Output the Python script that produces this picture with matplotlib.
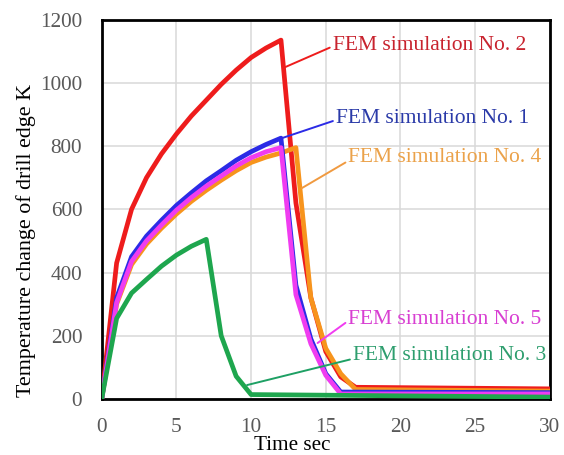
import matplotlib
matplotlib.use("Agg")
import matplotlib.pyplot as plt

plt.rcParams['font.family'] = ['Liberation Serif', 'DejaVu Serif']

# ---- data ----
red_t = [0, 1, 2, 3, 4, 5, 6, 7, 8, 9, 10, 11, 12, 13, 14, 15, 16, 17, 30]
red_y = [0, 430, 600, 700, 775, 838, 895, 945, 995, 1040, 1080, 1110, 1135,
         620, 320, 150, 70, 37, 32]

blue_t = [0, 1, 2, 3, 4, 5, 6, 7, 8, 9, 10, 11, 12, 13, 14, 15, 16, 30]
blue_y = [0, 320, 450, 515, 565, 612, 652, 690, 722, 755, 782, 805, 825,
          360, 190, 80, 22, 20]

mag_t = [0, 1, 2, 3, 4, 5, 6, 7, 8, 9, 10, 11, 12, 13, 14, 15, 16, 30]
mag_y = [0, 305, 435, 500, 550, 597, 637, 673, 705, 737, 763, 782, 795,
         330, 175, 75, 16, 16]

orange_t = [0, 1, 2, 3, 4, 5, 6, 7, 8, 9, 10, 11, 12, 13, 14, 15, 16, 17, 30]
orange_y = [0, 300, 425, 490, 540, 585, 625, 660, 692, 722, 748, 765, 778,
            795, 320, 160, 80, 30, 25]

green_t = [0, 1, 2, 3, 4, 5, 6, 7, 8, 9, 10, 30]
green_y = [0, 255, 335, 378, 420, 455, 483, 505, 200, 72, 14, 6]

labels = ["FEM simulation No. 2", "FEM simulation No. 1", "FEM simulation No. 4",
          "FEM simulation No. 5", "FEM simulation No. 3"]
label_pos = [(15.45, 1118), (15.66, 888), (16.5, 765), (16.5, 250), (16.8, 139)]
label_target = [(12.3, 1050), (12.0, 824), (13.4, 667), (14.45, 177), (9.73, 44)]

x_ticks = [0, 5, 10, 15, 20, 25, 30]
y_ticks = [0, 200, 400, 600, 800, 1000, 1200]

# ---- colours ----
c_red, c_blue, c_mag, c_orange, c_green = "#EE1C1C", "#2B2BE6", "#F03CF0", "#F7941D", "#1EA64E"
t_red, t_blue, t_orange, t_mag, t_green = "#C8232E", "#2A3AA8", "#EBA24A", "#D83FD2", "#2E9E6E"

fig = plt.figure(figsize=(5.64, 4.55), dpi=100)
ax = fig.add_axes([0.1803, 0.1231, 0.7947, 0.8339])

lw = 3.4
ax.plot(red_t, red_y, color=c_red, lw=lw, zorder=3)
ax.plot(orange_t, orange_y, color=c_orange, lw=lw, zorder=4)
ax.plot(blue_t, blue_y, color=c_blue, lw=lw, zorder=5)
ax.plot(mag_t, mag_y, color=c_mag, lw=lw, zorder=6)
ax.plot(green_t, green_y, color=c_green, lw=lw, zorder=7)

text_cols = [t_red, t_blue, t_orange, t_mag, t_green]
line_cols = [c_red, c_blue, "#F09A40", c_mag, "#1EA064"]
relys = [0.45, 0.4, 0.3, 0.45, 0.3]
for lab, pos, tgt, tc, lc, ry in zip(labels, label_pos, label_target, text_cols, line_cols, relys):
    ax.annotate(lab, xy=tgt, xytext=pos, ha='left', va='center',
                fontsize=15.5, color=tc, zorder=8,
                arrowprops=dict(arrowstyle='-', color=lc, lw=1.4,
                                relpos=(0, ry), shrinkA=0, shrinkB=0))

ax.set_xlim(0, 30)
ax.set_ylim(0, 1200)
ax.set_xticks(x_ticks)
ax.set_yticks(y_ticks)
ax.tick_params(axis='both', length=0, labelsize=15.3, labelcolor="#595959")
ax.tick_params(axis='y', pad=14)
ax.tick_params(axis='x', pad=14)
ax.grid(True, color="#D9D9D9", lw=1.1, zorder=0)
ax.set_axisbelow(True)
for s in ax.spines.values():
    s.set_color("black")
    s.set_linewidth(2)

ax.set_xlabel("Time sec", fontsize=15.2)
ax.xaxis.set_label_coords(0.425, -0.098)
ax.set_ylabel("Temperature change of drill edge K", fontsize=15.8)
ax.yaxis.set_label_coords(-0.147, 0.417)

fig.savefig("out.png", dpi=100)
